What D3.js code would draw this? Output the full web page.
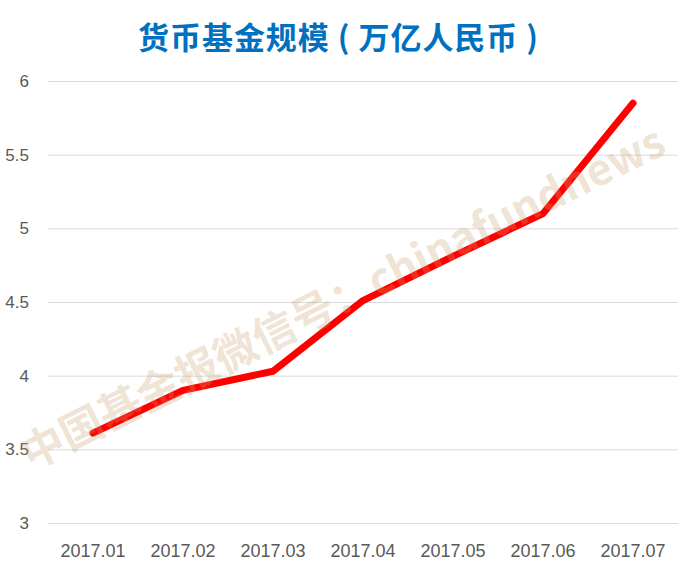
<!DOCTYPE html>
<html><head><meta charset="utf-8">
<script src="https://cdn.jsdelivr.net/npm/d3@7"></script>
<style>body{margin:0;background:#fff;}svg{display:block;}</style>
</head><body>
<script>
const categories = ["2017.01","2017.02","2017.03","2017.04","2017.05","2017.06","2017.07"];
const values = [3.61, 3.90, 4.03, 4.51, 4.81, 5.10, 5.85];
const yTicks = [3, 3.5, 4, 4.5, 5, 5.5, 6];
const title = "货币基金规模 ( 万亿人民币 )";
const watermark = "中国基金报微信号：chinafundnews";

const W = 688, H = 572;
const svg = d3.select("body").append("svg").attr("width", W).attr("height", H);
const x = d3.scaleBand().domain(categories).range([48, 678]);
const y = d3.scaleLinear().domain([3, 6]).range([523, 81]);

svg.append("text").attr("x", 338).attr("y", 49).attr("text-anchor", "middle")
  .attr("font-family", "'Noto Sans CJK SC', sans-serif").attr("font-weight", "bold")
  .attr("font-size", 31).attr("fill", "#0070C0")
  .attr("textLength", 400).attr("lengthAdjust", "spacing")
  .style("white-space", "pre").text(title);

const yAxis = svg.append("g").attr("transform", "translate(48,0)")
  .call(d3.axisLeft(y).tickValues(yTicks).tickSize(-630).tickPadding(19).tickFormat(d3.format("")));
yAxis.select(".domain").remove();
yAxis.selectAll("line").attr("stroke", "#d9d9d9").attr("stroke-width", 1);
yAxis.selectAll("text").attr("fill", "#595959").attr("font-size", 17)
  .attr("font-family", "'Liberation Sans', Arial, sans-serif");

const xAxis = svg.append("g").attr("transform", "translate(0,523)")
  .call(d3.axisBottom(x).tickSize(0).tickPadding(21));
xAxis.select(".domain").remove();
xAxis.selectAll("text").attr("fill", "#595959").attr("font-size", 18)
  .attr("font-family", "'Liberation Sans', Arial, sans-serif");

const line = d3.line().x((d, i) => x(categories[i]) + x.bandwidth() / 2).y(d => y(d));
svg.append("path").datum(values).attr("d", line).attr("fill", "none")
  .attr("stroke", "#ff0000").attr("stroke-width", 7)
  .attr("stroke-linecap", "round").attr("stroke-linejoin", "round");

svg.append("text").attr("transform", "translate(343,298) rotate(-26.5)")
  .attr("text-anchor", "middle").attr("dy", "0.35em")
  .attr("font-family", "'Noto Sans CJK SC', sans-serif").attr("font-weight", "bold")
  .attr("font-size", 43).attr("fill", "rgb(200,160,110)").attr("fill-opacity", 0.3)
  .text(watermark);
</script>
</body></html>
